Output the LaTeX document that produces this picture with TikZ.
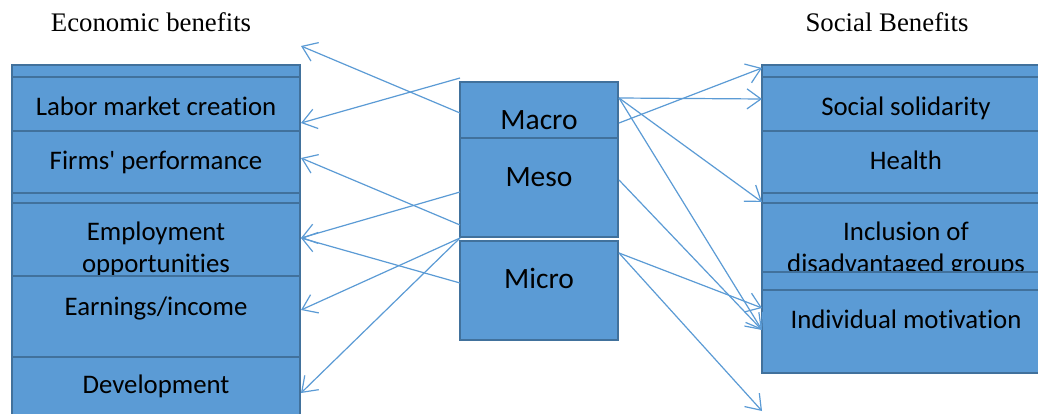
\documentclass[tikz,border=0pt]{standalone}
\usepackage{fontspec}
\setmainfont{Liberation Serif}
\newfontfamily\calfont[Ligatures=NoCommon]{Carlito}
\usetikzlibrary{arrows.meta}
\definecolor{boxfill}{HTML}{5B9BD5}
\definecolor{boxline}{HTML}{41719C}
\definecolor{arrowc}{HTML}{5B9BD5}
\tikzset{
  box/.style={draw=boxline, fill=boxfill, line width=2pt, inner sep=0pt, outer sep=0pt, rectangle},
  boxtext/.style={anchor=base, inner sep=0pt, font=\calfont\fontsize{26.8}{32}\selectfont, text=black},
  midtext/.style={anchor=base, inner sep=0pt, font=\calfont\fontsize{29.5}{35}\selectfont, text=black},
  titletext/.style={anchor=base, inner sep=0pt, font=\fontsize{26.8}{31}\selectfont, text=black},
  conn/.style={draw=arrowc, line width=1.2pt, -{Straight Barb[length=14pt,width=20pt]}},
}
\newcommand\mybox[5]{\node[box, minimum width={(#4-#2)*1pt}, minimum height={(#5-#3)*1pt}] (#1) at ({(#2+#4)/2},{(#3+#5)/2}) {};}
\begin{document}
\begin{tikzpicture}[x=1pt,y=-1pt]
\clip (0,0) rectangle (1038,414);
\fill[white] (0,0) rectangle (1038,414);
% titles
\node[titletext] (tecon) at (151,32) {Economic benefits};
\node[titletext] (tsoc) at (887,32) {Social Benefits};
% left column
\mybox{l1}{12}{65}{300}{131}
\mybox{l2}{12}{77}{300}{131}
\node[boxtext] (tl2) at (156,116) {Labor market creation};
\mybox{l3}{12}{131}{300}{193}
\node[boxtext] (tl3) at (156,170) {Firms' performance};
\mybox{l4}{12}{193}{300}{276}
\mybox{l5}{12}{203}{300}{300}
\node[boxtext] (tl5a) at (156,240) {Employment};
\node[boxtext] (tl5b) at (156,272) {opportunities};
\mybox{l7}{12}{340}{300}{440}
\node[boxtext] (tl7) at (156,393) {Development};
\mybox{l6}{12}{276}{300}{357}
\node[boxtext] (tl6) at (156,315) {Earnings/income};
% middle column
\mybox{mac}{460}{82}{618}{138}
\node[midtext] (tmac) at (539,130) {Macro};
\mybox{mes}{460}{138}{618}{237}
\node[midtext] (tmes) at (539,187) {Meso};
\mybox{mic}{460}{241}{618}{340}
\node[midtext] (tmic) at (539,288) {Micro};
% right column
\mybox{r1}{762}{65}{1050}{131}
\mybox{r2}{762}{77}{1050}{131}
\node[boxtext] (tr2) at (906,116) {Social solidarity};
\mybox{r3}{762}{131}{1050}{193}
\node[boxtext] (tr3) at (906,170) {Health};
\mybox{r4}{762}{193}{1050}{272}
\mybox{r5}{762}{203}{1050}{300}
\node[boxtext] (tr5a) at (906,240) {Inclusion of};
\node[boxtext] (tr5b) at (906,272) {disadvantaged groups};
\mybox{r6}{762}{272}{1050}{373}
\mybox{r7}{762}{290}{1050}{373}
\node[boxtext] (tr7) at (906,328) {Individual motivation};
% connector end points
\coordinate (sa1) at (460,113); \coordinate (ta1) at (301,46);
\coordinate (sa2) at (460,78);  \coordinate (ta2) at (301,123);
\coordinate (sa3) at (460,225); \coordinate (ta3) at (301,158);
\coordinate (sa4) at (460,192); \coordinate (ta4) at (301,238);
\coordinate (sa5) at (460,283);
\coordinate (sa6) at (460,238); \coordinate (ta6) at (301,310);
\coordinate (ta7) at (301,393);
\coordinate (sb1) at (619,98);  \coordinate (tb1) at (762,99);
\coordinate (sb2) at (619,123); \coordinate (tb2) at (762,68);
\coordinate (tb3) at (762,202);
\coordinate (tb4) at (762,330);
\coordinate (sb5) at (619,180);
\coordinate (sb6) at (619,253); \coordinate (tb6) at (762,308);
\coordinate (tb7) at (762,411);
% connectors
\draw[conn] (sa1) -- (ta1);
\draw[conn] (sa2) -- (ta2);
\draw[conn] (sa3) -- (ta3);
\draw[conn] (sa4) -- (ta4);
\draw[conn] (sa5) -- (ta4);
\draw[conn] (sa6) -- (ta6);
\draw[conn] (sa6) -- (ta7);
\draw[conn] (sb1) -- (tb1);
\draw[conn] (sb2) -- (tb2);
\draw[conn] (sb1) -- (tb3);
\draw[conn] (sb1) -- (tb4);
\draw[conn] (sb5) -- (tb4);
\draw[conn] (sb6) -- (tb6);
\draw[conn] (sb6) -- (tb7);
\end{tikzpicture}
\end{document}
